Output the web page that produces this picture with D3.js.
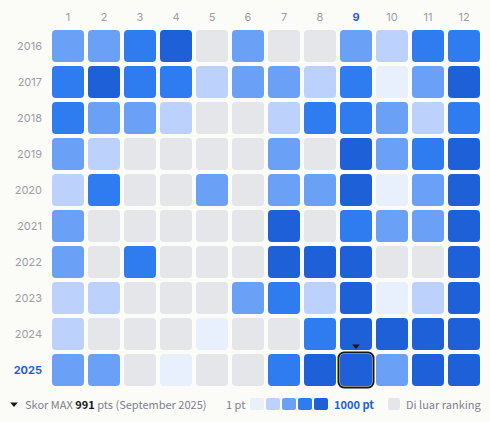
<!DOCTYPE html>
<html>
<head>
<meta charset="utf-8">
<script src="https://cdn.jsdelivr.net/npm/d3@7"></script>
<style>
  html, body { margin: 0; padding: 0; background: #fbfbf7; }
  svg { display: block; }
</style>
</head>
<body>
<div id="chart"></div>
<script>
const width = 490;
const height = 422;

const months = [1, 2, 3, 4, 5, 6, 7, 8, 9, 10, 11, 12];
const years = [2016, 2017, 2018, 2019, 2020, 2021, 2022, 2023, 2024, 2025];

// score band of every month, 0 = outside the ranking
const levels2016 = [3, 3, 4, 5, 0, 3, 0, 0, 3, 2, 4, 4];
const levels2017 = [4, 5, 4, 4, 2, 3, 3, 2, 4, 1, 3, 5];
const levels2018 = [4, 3, 3, 2, 0, 0, 2, 4, 4, 3, 2, 4];
const levels2019 = [3, 2, 0, 0, 0, 0, 3, 0, 5, 3, 4, 5];
const levels2020 = [2, 4, 0, 0, 3, 0, 3, 3, 5, 1, 3, 5];
const levels2021 = [3, 0, 0, 0, 0, 0, 5, 0, 4, 3, 3, 5];
const levels2022 = [3, 0, 4, 0, 0, 0, 5, 5, 5, 0, 0, 5];
const levels2023 = [2, 2, 0, 0, 0, 3, 4, 2, 5, 1, 2, 5];
const levels2024 = [2, 0, 0, 0, 1, 0, 0, 4, 5, 5, 5, 5];
const levels2025 = [3, 3, 0, 1, 0, 0, 4, 5, 5, 3, 5, 5];

const levelRows = [levels2016, levels2017, levels2018, levels2019, levels2020,
  levels2021, levels2022, levels2023, levels2024, levels2025];

const legendLevels = [1, 2, 3, 4, 5];
const colorRange = ["#e5e6ea", "#e8effd", "#bcd2fc", "#6aa0f6", "#2f7bf0", "#1e60d8"];

const peakMonth = 9;
const peakYear = 2025;

const labelFont = "Inter, sans-serif";
const legendFont = "'Noto Sans CJK JP', sans-serif";
const labelColor = "#9b9ea9";
const accent = "#1e60d8";

const x = d3.scaleBand().domain(months).range([50, 482]).paddingInner(4 / 36).paddingOuter(2 / 36);
const y = d3.scaleBand().domain(years).range([28, 388]).paddingInner(4 / 36).paddingOuter(2 / 36);
const color = d3.scaleOrdinal().domain(d3.range(6)).range(colorRange);

const svg = d3
  .select("#chart")
  .append("svg")
  .attr("width", width)
  .attr("height", height)
  .style("background-color", "#fbfbf7");

// AXES

const xAxis = svg.append("g")
  .attr("transform", "translate(0,21)")
  .call(d3.axisTop(x).tickSize(0).tickPadding(0));

const yAxis = svg.append("g")
  .attr("transform", "translate(42,0)")
  .call(d3.axisLeft(y).tickSize(0).tickPadding(0).tickFormat(d3.format("d")));

svg.selectAll(".domain").remove();

xAxis.selectAll("text")
  .attr("font-family", labelFont)
  .attr("font-size", 11)
  .attr("fill", (d) => (d == peakMonth ? accent : labelColor))
  .attr("font-weight", (d) => (d == peakMonth ? 700 : 400));

yAxis.selectAll("text")
  .attr("font-family", labelFont)
  .attr("font-size", 11)
  .attr("fill", (d) => (d == peakYear ? accent : labelColor))
  .attr("font-weight", (d) => (d == peakYear ? 700 : 400));

// CELLS

const rows = svg.append("g")
  .selectAll("g")
  .data(levelRows)
  .enter()
  .append("g")
  .attr("transform", (d, i) => `translate(0,${y(years[i])})`);

rows.selectAll("rect")
  .data((d) => d)
  .enter()
  .append("rect")
  .attr("x", (d, i) => x(months[i]))
  .attr("width", x.bandwidth())
  .attr("height", y.bandwidth())
  .attr("rx", 4)
  .attr("fill", (d) => color(d));

// PEAK MARKER

svg.append("rect")
  .attr("x", x(peakMonth) - 1.5)
  .attr("y", y(peakYear) - 1.5)
  .attr("width", x.bandwidth() + 3)
  .attr("height", y.bandwidth() + 3)
  .attr("rx", 5.5)
  .attr("fill", "none")
  .attr("stroke", "#16181d")
  .attr("stroke-width", 2);

const triangle = d3.symbol().type(d3.symbolTriangle).size(26);

svg.append("path")
  .attr("d", triangle())
  .attr("transform", `translate(${x(peakMonth) + x.bandwidth() / 2},346) rotate(180) scale(1,0.65)`)
  .attr("fill", "#16181d");

// LEGEND

const legendY = 409;

svg.append("path")
  .attr("d", triangle())
  .attr("transform", "translate(14,404) rotate(180) scale(1,0.65)")
  .attr("fill", "#16181d");

const note = svg.append("text")
  .attr("x", 25)
  .attr("y", legendY)
  .attr("font-family", legendFont)
  .attr("font-size", 11)
  .attr("fill", "#7d818c");
note.append("tspan").text("Skor MAX ");
note.append("tspan").attr("font-weight", 700).attr("fill", "#16181d").text("991");
note.append("tspan").text(" pts (September 2025)");

svg.append("text")
  .attr("x", 226)
  .attr("y", legendY)
  .attr("font-family", legendFont)
  .attr("font-size", 11)
  .attr("fill", "#7d818c")
  .text("1 pt");

const legendX = d3.scaleBand().domain(legendLevels).range([250, 330]);

svg.append("g")
  .selectAll("rect")
  .data(legendLevels)
  .enter()
  .append("rect")
  .attr("x", (d) => legendX(d))
  .attr("y", 398)
  .attr("width", 14)
  .attr("height", 12)
  .attr("rx", 2)
  .attr("fill", (d) => color(d));

svg.append("text")
  .attr("x", 334)
  .attr("y", legendY)
  .attr("font-family", legendFont)
  .attr("font-size", 11)
  .attr("font-weight", 700)
  .attr("fill", accent)
  .text("1000 pt");

svg.append("rect")
  .attr("x", 388)
  .attr("y", 398)
  .attr("width", 12)
  .attr("height", 12)
  .attr("rx", 2)
  .attr("fill", color(0));

svg.append("text")
  .attr("x", 406)
  .attr("y", legendY)
  .attr("font-family", legendFont)
  .attr("font-size", 11)
  .attr("fill", "#7d818c")
  .text("Di luar ranking");
</script>
</body>
</html>
